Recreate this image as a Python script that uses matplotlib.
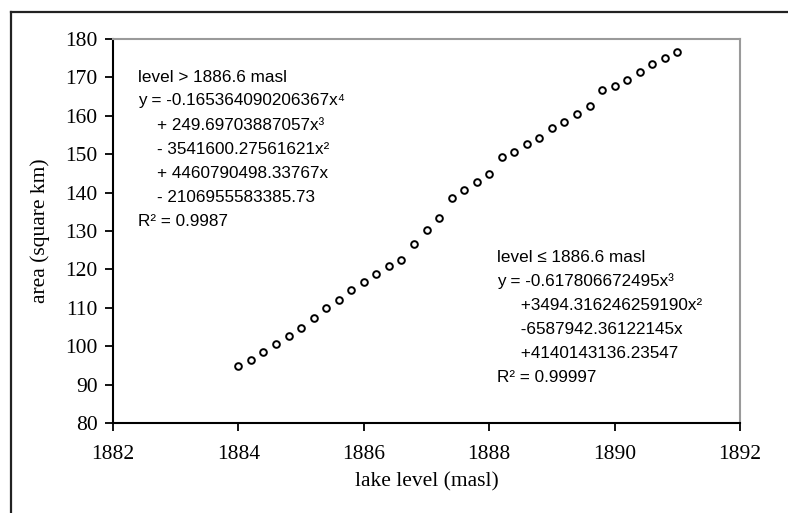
import matplotlib
matplotlib.use("Agg")
import matplotlib.pyplot as plt
from matplotlib.lines import Line2D

lake_level = [1884.0, 1884.2, 1884.4, 1884.6, 1884.8, 1885.0, 1885.2, 1885.4, 1885.6,
              1885.8, 1886.0, 1886.2, 1886.4, 1886.6, 1886.8, 1887.0, 1887.2, 1887.4,
              1887.6, 1887.8, 1888.0, 1888.2, 1888.4, 1888.6, 1888.8, 1889.0, 1889.2,
              1889.4, 1889.6, 1889.8, 1890.0, 1890.2, 1890.4, 1890.6, 1890.8, 1891.0]
area = [94.9, 96.5, 98.5, 100.6, 102.7, 104.8, 107.4, 110.0, 112.1,
        114.6, 116.7, 118.9, 121.0, 122.4, 126.7, 130.3, 133.4, 138.6,
        140.7, 142.8, 144.8, 149.2, 150.7, 152.7, 154.3, 156.9, 158.5,
        160.5, 162.6, 166.7, 167.8, 169.3, 171.5, 173.5, 175.1, 176.7]
x_ticks = [1882, 1884, 1886, 1888, 1890, 1892]
y_ticks = [80, 90, 100, 110, 120, 130, 140, 150, 160, 170, 180]

upper_eq = ["level > 1886.6 masl",
            "y = -0.165364090206367x\u2074",
            "    + 249.69703887057x\u00b3",
            "    - 3541600.27561621x\u00b2",
            "    + 4460790498.33767x",
            "    - 2106955583385.73",
            "R\u00b2 = 0.9987"]
lower_eq = ["level \u2264 1886.6 masl",
            "y = -0.617806672495x\u00b3",
            "     +3494.316246259190x\u00b2",
            "     -6587942.36122145x",
            "     +4140143136.23547",
            "R\u00b2 = 0.99997"]

W, H = 788, 513
fig = plt.figure(figsize=(W / 100, H / 100), dpi=100)
fig.patch.set_facecolor("white")
ax = fig.add_axes([113 / W, 1 - 423 / H, (740 - 113) / W, (423 - 39) / H])

ax.plot(lake_level, area, linestyle="none", marker="o", markersize=4.8,
        markerfacecolor="white", markeredgecolor="black", markeredgewidth=1.4)

ax.set_xlim(1882, 1892)
ax.set_ylim(80, 180)
ax.set_xticks(x_ticks)
ax.set_yticks(y_ticks)
serif = ["Liberation Serif", "DejaVu Serif"]
for lab in ax.get_xticklabels() + ax.get_yticklabels():
    lab.set_fontfamily(serif)
    lab.set_fontsize(15.5)
ax.tick_params(axis="both", direction="out", length=6, width=1.3, color="black")
ax.tick_params(axis="x", pad=10)
ax.tick_params(axis="y", pad=5)
for s in ["left", "bottom"]:
    ax.spines[s].set_color("black")
    ax.spines[s].set_linewidth(1.5)
for s in ["top", "right"]:
    ax.spines[s].set_color("#9a9a9a")
    ax.spines[s].set_linewidth(1.5)

ax.set_xlabel("lake level (masl)", fontfamily=serif, fontsize=15.5, labelpad=6)
ax.set_ylabel("area (square km)", fontfamily=serif, fontsize=15.5, labelpad=11)

sans = ["Liberation Sans", "DejaVu Sans"]
for i, line in enumerate(upper_eq):
    fig.text(138 / W, 1 - (77 + 24 * i) / H, line, fontfamily=sans, fontsize=12.3,
             va="center", ha="left")
for i, line in enumerate(lower_eq):
    fig.text(497 / W, 1 - (257 + 24 * i) / H, line, fontfamily=sans, fontsize=12.3,
             va="center", ha="left")

# outer frame (left and top edges)
fig.add_artist(Line2D([11 / W, 11 / W], [0, 1 - 12 / H], transform=fig.transFigure,
                      color="#222222", linewidth=1.6))
fig.add_artist(Line2D([11 / W, 1], [1 - 12 / H, 1 - 12 / H], transform=fig.transFigure,
                      color="#222222", linewidth=1.6))

fig.savefig("out.png", dpi=100)
